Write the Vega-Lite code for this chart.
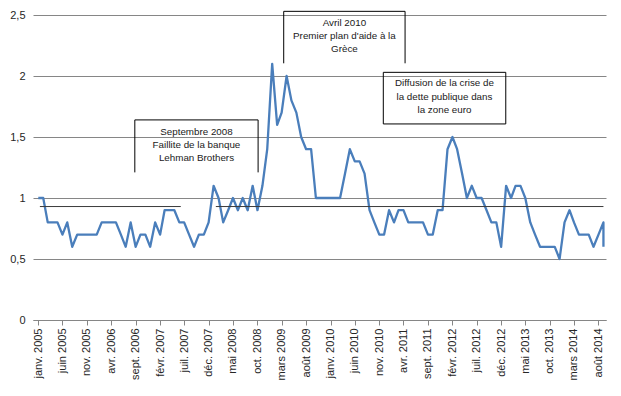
{
  "$schema": "https://vega.github.io/schema/vega-lite/v6.json",
  "width": 573,
  "height": 305,
  "autosize": "none",
  "padding": {"left": 33, "top": 15, "right": 15, "bottom": 76},
  "background": "white",
  "config": {"view": {"stroke": null}, "font": "Liberation Sans", "axisX": {"labelOverlap": false, "labelBound": false, "tickCount": 40}},
  "datasets": {
    "series": [
      {"date": "2005-01-01", "v": 1.0}, {"date": "2005-02-01", "v": 1.0}, {"date": "2005-03-01", "v": 0.8}, {"date": "2005-04-01", "v": 0.8},
      {"date": "2005-05-01", "v": 0.8}, {"date": "2005-06-01", "v": 0.7}, {"date": "2005-07-01", "v": 0.8}, {"date": "2005-08-01", "v": 0.6},
      {"date": "2005-09-01", "v": 0.7}, {"date": "2005-10-01", "v": 0.7}, {"date": "2005-11-01", "v": 0.7}, {"date": "2005-12-01", "v": 0.7},
      {"date": "2006-01-01", "v": 0.7}, {"date": "2006-02-01", "v": 0.8}, {"date": "2006-03-01", "v": 0.8}, {"date": "2006-04-01", "v": 0.8},
      {"date": "2006-05-01", "v": 0.8}, {"date": "2006-06-01", "v": 0.7}, {"date": "2006-07-01", "v": 0.6}, {"date": "2006-08-01", "v": 0.8},
      {"date": "2006-09-01", "v": 0.6}, {"date": "2006-10-01", "v": 0.7}, {"date": "2006-11-01", "v": 0.7}, {"date": "2006-12-01", "v": 0.6},
      {"date": "2007-01-01", "v": 0.8}, {"date": "2007-02-01", "v": 0.7}, {"date": "2007-03-01", "v": 0.9}, {"date": "2007-04-01", "v": 0.9},
      {"date": "2007-05-01", "v": 0.9}, {"date": "2007-06-01", "v": 0.8}, {"date": "2007-07-01", "v": 0.8}, {"date": "2007-08-01", "v": 0.7},
      {"date": "2007-09-01", "v": 0.6}, {"date": "2007-10-01", "v": 0.7}, {"date": "2007-11-01", "v": 0.7}, {"date": "2007-12-01", "v": 0.8},
      {"date": "2008-01-01", "v": 1.1}, {"date": "2008-02-01", "v": 1.0}, {"date": "2008-03-01", "v": 0.8}, {"date": "2008-04-01", "v": 0.9},
      {"date": "2008-05-01", "v": 1.0}, {"date": "2008-06-01", "v": 0.9}, {"date": "2008-07-01", "v": 1.0}, {"date": "2008-08-01", "v": 0.9},
      {"date": "2008-09-01", "v": 1.1}, {"date": "2008-10-01", "v": 0.9}, {"date": "2008-11-01", "v": 1.1}, {"date": "2008-12-01", "v": 1.4},
      {"date": "2009-01-01", "v": 2.1}, {"date": "2009-02-01", "v": 1.6}, {"date": "2009-03-01", "v": 1.7}, {"date": "2009-04-01", "v": 2.0},
      {"date": "2009-05-01", "v": 1.8}, {"date": "2009-06-01", "v": 1.7}, {"date": "2009-07-01", "v": 1.5}, {"date": "2009-08-01", "v": 1.4},
      {"date": "2009-09-01", "v": 1.4}, {"date": "2009-10-01", "v": 1.0}, {"date": "2009-11-01", "v": 1.0}, {"date": "2009-12-01", "v": 1.0},
      {"date": "2010-01-01", "v": 1.0}, {"date": "2010-02-01", "v": 1.0}, {"date": "2010-03-01", "v": 1.0}, {"date": "2010-04-01", "v": 1.2},
      {"date": "2010-05-01", "v": 1.4}, {"date": "2010-06-01", "v": 1.3}, {"date": "2010-07-01", "v": 1.3}, {"date": "2010-08-01", "v": 1.2},
      {"date": "2010-09-01", "v": 0.9}, {"date": "2010-10-01", "v": 0.8}, {"date": "2010-11-01", "v": 0.7}, {"date": "2010-12-01", "v": 0.7},
      {"date": "2011-01-01", "v": 0.9}, {"date": "2011-02-01", "v": 0.8}, {"date": "2011-03-01", "v": 0.9}, {"date": "2011-04-01", "v": 0.9},
      {"date": "2011-05-01", "v": 0.8}, {"date": "2011-06-01", "v": 0.8}, {"date": "2011-07-01", "v": 0.8}, {"date": "2011-08-01", "v": 0.8},
      {"date": "2011-09-01", "v": 0.7}, {"date": "2011-10-01", "v": 0.7}, {"date": "2011-11-01", "v": 0.9}, {"date": "2011-12-01", "v": 0.9},
      {"date": "2012-01-01", "v": 1.4}, {"date": "2012-02-01", "v": 1.5}, {"date": "2012-03-01", "v": 1.4}, {"date": "2012-04-01", "v": 1.2},
      {"date": "2012-05-01", "v": 1.0}, {"date": "2012-06-01", "v": 1.1}, {"date": "2012-07-01", "v": 1.0}, {"date": "2012-08-01", "v": 1.0},
      {"date": "2012-09-01", "v": 0.9}, {"date": "2012-10-01", "v": 0.8}, {"date": "2012-11-01", "v": 0.8}, {"date": "2012-12-01", "v": 0.6},
      {"date": "2013-01-01", "v": 1.1}, {"date": "2013-02-01", "v": 1.0}, {"date": "2013-03-01", "v": 1.1}, {"date": "2013-04-01", "v": 1.1},
      {"date": "2013-05-01", "v": 1.0}, {"date": "2013-06-01", "v": 0.8}, {"date": "2013-07-01", "v": 0.7}, {"date": "2013-08-01", "v": 0.6},
      {"date": "2013-09-01", "v": 0.6}, {"date": "2013-10-01", "v": 0.6}, {"date": "2013-11-01", "v": 0.6}, {"date": "2013-12-01", "v": 0.5},
      {"date": "2014-01-01", "v": 0.8}, {"date": "2014-02-01", "v": 0.9}, {"date": "2014-03-01", "v": 0.8}, {"date": "2014-04-01", "v": 0.7},
      {"date": "2014-05-01", "v": 0.7}, {"date": "2014-06-01", "v": 0.7}, {"date": "2014-07-01", "v": 0.6}, {"date": "2014-08-01", "v": 0.7},
      {"date": "2014-09-01", "v": 0.8}, {"date": "2014-09-01", "v": 0.6}
    ],
    "avg": [
      {"x1": "2005-01-11", "x2": "2007-06-10", "y": 0.93},
      {"x1": "2008-01-15", "x2": "2014-09-01", "y": 0.93}
    ],
    "frames": [
      {"x1": "2006-08-27", "x2": "2008-10-05", "y1": 1.64, "y2": 1.64},
      {"x1": "2006-08-27", "x2": "2006-08-27", "y1": 1.64, "y2": 1.21},
      {"x1": "2008-10-05", "x2": "2008-10-05", "y1": 1.64, "y2": 1.21},
      {"x1": "2009-03-14", "x2": "2011-04-11", "y1": 2.53, "y2": 2.53},
      {"x1": "2009-03-14", "x2": "2009-03-14", "y1": 2.53, "y2": 2.104},
      {"x1": "2011-04-11", "x2": "2011-04-11", "y1": 2.53, "y2": 2.104},
      {"x1": "2010-11-26", "x2": "2012-12-30", "y1": 2.03, "y2": 2.03},
      {"x1": "2010-11-26", "x2": "2012-12-30", "y1": 1.607, "y2": 1.607},
      {"x1": "2010-11-26", "x2": "2010-11-26", "y1": 2.03, "y2": 1.607},
      {"x1": "2012-12-30", "x2": "2012-12-30", "y1": 2.03, "y2": 1.607}
    ],
    "notes": [
      {"tx": "2007-09-16", "ty": 1.543, "label": "Septembre 2008\nFaillite de la banque\nLehman Brothers"},
      {"tx": "2010-03-28", "ty": 2.437, "label": "Avril 2010\nPremier plan d'aide à la\nGrèce"},
      {"tx": "2011-12-13", "ty": 1.94, "label": "Diffusion de la crise de\nla dette publique dans\nla zone euro"}
    ]
  },
  "layer": [
    {
      "data": {"name": "series"},
      "mark": {"type": "line", "color": "#4A7EBB", "strokeWidth": 2.3, "strokeJoin": "round"},
      "encoding": {
        "x": {
          "field": "date", "type": "temporal", "title": null,
          "scale": {"type": "utc", "domain": [{"year": 2004, "month": 11, "date": 29, "utc": true}, {"year": 2014, "month": 9, "date": 17, "utc": true}]},
          "axis": {
            "title": null, "grid": false, "tickCount": 40,
            "domainColor": "#868686", "tickColor": "#868686", "tickSize": 5,
            "labelAngle": 270, "labelPadding": 3, "labelFontSize": 11, "labelColor": "#262626",
            "labelOverlap": false, "labelFlush": false, "labelBound": false,
            "values": [
              {"year": 2005, "month": 1, "date": 1, "utc": true}, {"year": 2005, "month": 6, "date": 1, "utc": true},
              {"year": 2005, "month": 11, "date": 1, "utc": true}, {"year": 2006, "month": 4, "date": 1, "utc": true},
              {"year": 2006, "month": 9, "date": 1, "utc": true}, {"year": 2007, "month": 2, "date": 1, "utc": true},
              {"year": 2007, "month": 7, "date": 1, "utc": true}, {"year": 2007, "month": 12, "date": 1, "utc": true},
              {"year": 2008, "month": 5, "date": 1, "utc": true}, {"year": 2008, "month": 10, "date": 1, "utc": true},
              {"year": 2009, "month": 3, "date": 1, "utc": true}, {"year": 2009, "month": 8, "date": 1, "utc": true},
              {"year": 2010, "month": 1, "date": 1, "utc": true}, {"year": 2010, "month": 6, "date": 1, "utc": true},
              {"year": 2010, "month": 11, "date": 1, "utc": true}, {"year": 2011, "month": 4, "date": 1, "utc": true},
              {"year": 2011, "month": 9, "date": 1, "utc": true}, {"year": 2012, "month": 2, "date": 1, "utc": true},
              {"year": 2012, "month": 7, "date": 1, "utc": true}, {"year": 2012, "month": 12, "date": 1, "utc": true},
              {"year": 2013, "month": 5, "date": 1, "utc": true}, {"year": 2013, "month": 10, "date": 1, "utc": true},
              {"year": 2014, "month": 3, "date": 1, "utc": true}, {"year": 2014, "month": 8, "date": 1, "utc": true}
            ],
            "labelExpr": "['janv.','févr.','mars','avr.','mai','juin','juil.','août','sept.','oct.','nov.','déc.'][utcmonth(datum.value)] + ' ' + utcyear(datum.value)"
          }
        },
        "y": {
          "field": "v", "type": "quantitative", "title": null,
          "scale": {"domain": [0, 2.5], "nice": false, "zero": true},
          "axis": {
            "title": null, "domain": false, "ticks": false, "grid": true,
            "gridColor": "#868686", "gridWidth": 1,
            "values": [0, 0.5, 1, 1.5, 2, 2.5],
            "labelExpr": "replace(toString(datum.value), '.', ',')",
            "labelPadding": 8, "labelFontSize": 11, "labelColor": "#262626"
          }
        }
      }
    },
    {
      "data": {"name": "avg"},
      "mark": {"type": "rule", "color": "#3a3a3a", "strokeWidth": 1},
      "encoding": {
        "x": {"field": "x1", "type": "temporal", "title": null},
        "x2": {"field": "x2"},
        "y": {"field": "y", "type": "quantitative", "title": null}
      }
    },
    {
      "data": {"name": "frames"},
      "mark": {"type": "rule", "color": "#000000", "strokeWidth": 1},
      "encoding": {
        "x": {"field": "x1", "type": "temporal", "title": null},
        "x2": {"field": "x2"},
        "y": {"field": "y1", "type": "quantitative", "title": null},
        "y2": {"field": "y2"}
      }
    },
    {
      "data": {"name": "notes"},
      "mark": {"type": "text", "align": "center", "baseline": "middle", "lineBreak": "\n", "lineHeight": 13.3, "fontSize": 9.8, "color": "#1a1a1a"},
      "encoding": {
        "x": {"field": "tx", "type": "temporal", "title": null},
        "y": {"field": "ty", "type": "quantitative", "title": null},
        "text": {"field": "label", "type": "nominal"}
      }
    }
  ]
}
